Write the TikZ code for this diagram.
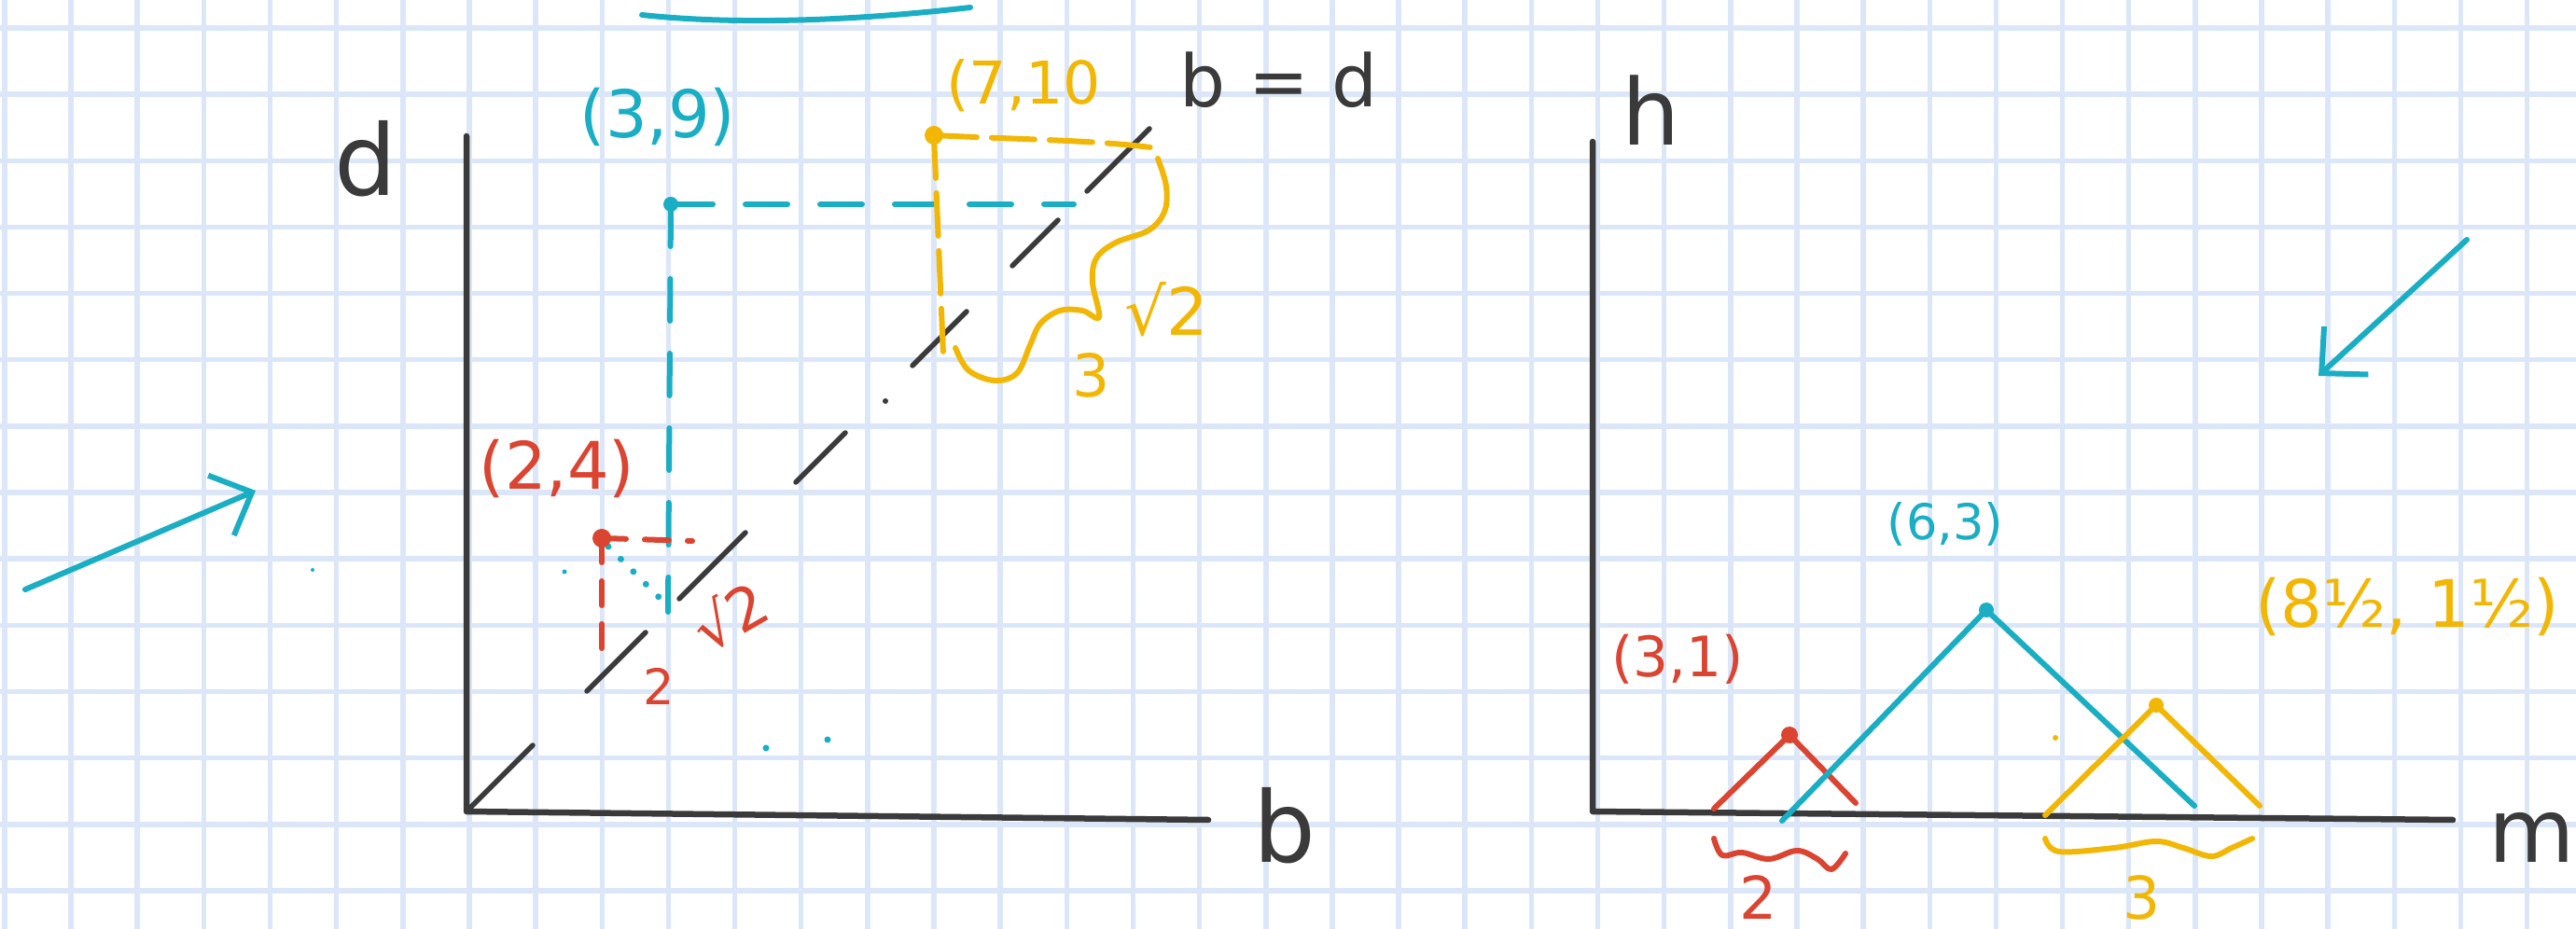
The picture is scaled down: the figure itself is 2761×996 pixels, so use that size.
\documentclass[tikz,border=0pt]{standalone}
\usepackage{fontspec}
\setmainfont{DejaVu Sans}
\usetikzlibrary{arrows.meta}
\definecolor{SketchInk}{HTML}{3A3A3A}
\definecolor{SketchCyan}{HTML}{1AAEC4}
\definecolor{SketchRed}{HTML}{DA4431}
\definecolor{SketchAmber}{HTML}{F2B705}
\definecolor{SketchGrid}{HTML}{DBE7F8}
\tikzset{
  gridline/.style={draw=SketchGrid, line width=0.55mm},
  axisline/.style={draw=SketchInk, line width=0.65mm, line cap=round, line join=round},
  diagline/.style={draw=SketchInk, line width=0.55mm, line cap=round},
  penline/.style={line width=0.6mm, line cap=round, line join=round},
  axislabel/.style={inner sep=0pt, font=\fontsize{30}{34}\selectfont, text=SketchInk},
  coordlabel/.style={inner sep=0pt, font=\fontsize{20}{24}\selectfont},
  cyanarrow/.style={penline, draw=SketchCyan,
                    -{Straight Barb[length=3.6mm,width=7mm,line width=0.6mm]}},
}

\begin{document}
\begin{tikzpicture}[x=0.1mm, y=-0.1mm]
  \tikzset{
    cyandash/.style={penline, draw=SketchCyan, dash pattern=on 4.5mm off 3.5mm},
    reddash/.style={penline, draw=SketchRed, dash pattern=on 2.6mm off 2mm},
    amberdash/.style={penline, draw=SketchAmber, dash pattern=on 4.6mm off 1.6mm},
    cyandots/.style={penline, draw=SketchCyan, dash pattern=on 0pt off 1.9mm, line width=0.7mm},
  }

  % paper
  \fill[white] (0,0) rectangle (2761,996);
  \useasboundingbox (0,0) rectangle (2761,996);
  \foreach \i in {0,...,38}
    \draw[gridline] ({4.9+71.15*\i},0) -- ++(0,996);
  \foreach \j in {0,...,13}
    \draw[gridline] (0,{30+71.15*\j}) -- ++(2761,0);

  % left panel: b-d plane
  \coordinate (bdO) at (500,870);
  \draw[axisline] (500,146) -- (bdO) -- (1295,879);
  \node[axislabel] (dlabel) at (392,170) {d};
  \node[axislabel] (blabel) at (1377,885) {b};
  \node[axislabel, font=\fontsize{22}{26}\selectfont] (bdlabel) at (1371,86) {b = d};
  \foreach \s/\e in {4/71,129/192,228/299,353/406,478/536,585/634,665/732}
    \draw[diagline] ({500+\s},{870-\s}) -- ({500+\e},{870-\e});
  \fill[SketchInk] (949,430) circle[radius=0.3mm];

  % (3,9)
  \coordinate (p39) at (719,219);
  \coordinate (p39h) at (1151,219);
  \coordinate (p39v) at (716,656);
  \draw[cyandash] (p39) -- (p39h);
  \draw[cyandash] (p39) -- (p39v);
  \fill[SketchCyan] (p39) circle[radius=0.8mm];
  \node[coordlabel, text=SketchCyan] (l39) at (705,125) {(3,9)};

  % (2,4)
  \coordinate (p24) at (645,577);
  \coordinate (p24h) at (742,580);
  \coordinate (p24v) at (645,712);
  \coordinate (p24f) at (716,650);
  \draw[reddash] (p24) -- (p24h);
  \draw[reddash] (p24) -- (p24v);
  \draw[cyandots] (652,586) -- (p24f);
  \fill[SketchRed] (p24) circle[radius=1mm];
  \node[coordlabel, text=SketchRed] (l24) at (597,502) {(2,4)};
  \node[coordlabel, text=SketchRed, font=\fontsize{15}{18}\selectfont] (l22a) at (706,736) {2};
  \node[coordlabel, text=SketchRed, rotate=30, font=\fontsize{18}{22}\selectfont] (l22b)
    at (782,660) {√2};

  % (7,10)
  \coordinate (p710) at (1001,145);
  \coordinate (p710h) at (1248,160);
  \coordinate (p710v) at (1011,380);
  \draw[amberdash] (p710) .. controls (1100,150) and (1180,150) .. (p710h);
  \draw[amberdash] (p710) -- (p710v);
  \fill[SketchAmber] (p710) circle[radius=1mm];
  \node[coordlabel, text=SketchAmber, font=\fontsize{18}{22}\selectfont] (l710) at (1097,92) {(7,10};
  \draw[penline, draw=SketchAmber] plot[smooth, tension=0.6] coordinates {
    (1241,170) (1250,200) (1248,227) (1231,247) (1196,260) (1175,277) (1171,303)
    (1178,340) (1160,333) (1136,333) (1115,347) (1104,370) (1090,400) (1066,408)
    (1038,397) (1024,373)};
  \node[coordlabel, text=SketchAmber, font=\fontsize{18}{22}\selectfont] (l3a) at (1170,402) {3};
  \node[coordlabel, text=SketchAmber, font=\fontsize{20}{24}\selectfont] (lr2) at (1250,332) {√2};

  % strokes
  \draw[penline, draw=SketchCyan] (688,16) .. controls (780,26) and (900,24) .. (1040,8);
  \coordinate (arrLa) at (27,632);
  \coordinate (arrLb) at (274,526);
  \draw[cyanarrow] (arrLa) -- (arrLb);
  \fill[SketchCyan] (335,611) circle[radius=0.2mm];
  \fill[SketchCyan] (605,613) circle[radius=0.25mm];
  \fill[SketchCyan] (821,802) circle[radius=0.35mm];
  \fill[SketchCyan] (887,793) circle[radius=0.35mm];

  % right panel: m-h plane
  \coordinate (hmO) at (1707,870);
  \draw[axisline] (1707,152) -- (hmO) -- (2629,879);
  \node[axislabel, font=\fontsize{28}{32}\selectfont] (hlabel) at (1770,118) {h};
  \node[axislabel, font=\fontsize{27}{32}\selectfont] (mlabel) at (2714,898) {m};

  \coordinate (t31) at (1918,788);
  \coordinate (t63) at (2129,654);
  \coordinate (t85) at (2311,756);
  \draw[penline, draw=SketchRed] (1837,867) -- (t31) -- (1989,861);
  \draw[penline, draw=SketchCyan] (1910,880) -- (t63) -- (2352,864);
  \draw[penline, draw=SketchAmber] (2192,874) -- (t85) -- (2422,864);
  \fill[SketchRed] (t31) circle[radius=0.9mm];
  \fill[SketchCyan] (t63) circle[radius=0.8mm];
  \fill[SketchAmber] (t85) circle[radius=0.8mm];
  \fill[SketchAmber] (2203,791) circle[radius=0.3mm];

  \node[coordlabel, text=SketchRed, font=\fontsize{17}{20}\selectfont] (l31) at (1798,707) {(3,1)};
  \node[coordlabel, text=SketchCyan, font=\fontsize{15}{18}\selectfont] (l63) at (2085,562) {(6,3)};
  \node[coordlabel, text=SketchAmber] (l85) at (2580,650) {(8½, 1½)};

  \draw[penline, draw=SketchRed] plot[smooth, tension=0.6] coordinates {
    (1837,899) (1846,917) (1867,914) (1896,921) (1926,912) (1948,921) (1963,932) (1978,915)};
  \node[coordlabel, text=SketchRed, font=\fontsize{18}{22}\selectfont] (l2) at (1885,962) {2};
  \draw[penline, draw=SketchAmber] plot[smooth, tension=0.6] coordinates {
    (2192,899) (2207,913) (2266,909) (2311,902) (2340,909) (2370,918) (2392,909) (2414,899)};
  \node[coordlabel, text=SketchAmber, font=\fontsize{18}{22}\selectfont] (l3b) at (2296,962) {3};

  \coordinate (arrRa) at (2644,257);
  \coordinate (arrRb) at (2485,403);
  \draw[cyanarrow] (arrRa) -- (arrRb);
\end{tikzpicture}
\end{document}
